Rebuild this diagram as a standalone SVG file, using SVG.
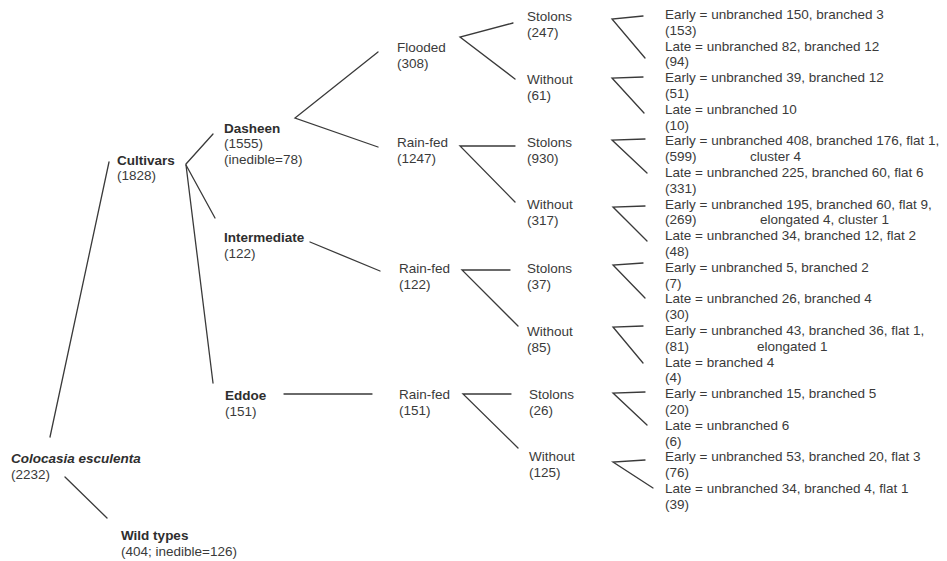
<svg xmlns="http://www.w3.org/2000/svg" width="947" height="561" viewBox="0 0 947 561">
<style>
text{font-family:"Liberation Sans",Arial,sans-serif;font-size:13.5px;fill:#3a3a3a}
.b{font-weight:bold;fill:#2e2e2e}
.bi{font-weight:bold;font-style:italic;fill:#2e2e2e}
.c line,.c polyline{stroke:#3a3a3a;stroke-width:1.3;fill:none;stroke-linecap:round}
</style>
<rect width="947" height="561" fill="#ffffff"/>
<g class="c" id="connectors">
<line x1="50" y1="437" x2="109" y2="162"/>
<line x1="65" y1="477" x2="107" y2="518"/>
<line x1="186" y1="164" x2="213" y2="134"/>
<line x1="186" y1="165" x2="215" y2="218"/>
<line x1="186" y1="165" x2="213" y2="383"/>
<polyline points="378,52 295,118 378,147"/>
<line x1="310" y1="242" x2="380" y2="271"/>
<line x1="284" y1="394" x2="372" y2="394"/>
<polyline points="513,23 460,37 515,79"/>
<polyline points="515,146 460,146 515,202"/>
<polyline points="510,270 462,270 518,326"/>
<polyline points="511,394 463,394 518,448"/>
<polyline points="643,16 612,19 645,58"/>
<polyline points="643,77 612,78 644,113"/>
<polyline points="645,139 612,140 647,173"/>
<polyline points="645,206 613,207 647,241"/>
<polyline points="643,263 613,265 645,298"/>
<polyline points="643,326 613,327 643,363"/>
<polyline points="645,392 613,393 647,425"/>
<polyline points="645,460 613,462 653,488"/>
</g>
<g id="colocasia"><text class="bi" x="11" y="463">Colocasia esculenta</text><text x="11" y="479">(2232)</text></g>
<g id="wild"><text class="b" x="121" y="540">Wild types</text><text x="121" y="556">(404; inedible=126)</text></g>
<g id="cultivars"><text class="b" x="117" y="164.5">Cultivars</text><text x="117" y="180.3">(1828)</text></g>
<g id="dasheen"><text class="b" x="224" y="132.5">Dasheen</text><text x="224" y="148.3">(1555)</text><text x="224" y="164">(inedible=78)</text></g>
<g id="intermediate"><text class="b" x="224" y="242">Intermediate</text><text x="224" y="258">(122)</text></g>
<g id="eddoe"><text class="b" x="225" y="400">Eddoe</text><text x="225" y="416">(151)</text></g>
<g id="flooded"><text x="397" y="52">Flooded</text><text x="397" y="68">(308)</text></g>
<g id="rainfed-dasheen"><text x="397" y="147">Rain-fed</text><text x="397" y="163">(1247)</text></g>
<g id="rainfed-intermediate"><text x="399" y="273">Rain-fed</text><text x="399" y="289">(122)</text></g>
<g id="rainfed-eddoe"><text x="399" y="399">Rain-fed</text><text x="399" y="415">(151)</text></g>
<g id="stolons-247"><text x="527" y="21">Stolons</text><text x="527" y="37">(247)</text></g>
<g id="without-61"><text x="527" y="84">Without</text><text x="527" y="100">(61)</text></g>
<g id="stolons-930"><text x="527" y="147">Stolons</text><text x="527" y="163">(930)</text></g>
<g id="without-317"><text x="527" y="209">Without</text><text x="527" y="225">(317)</text></g>
<g id="stolons-37"><text x="527" y="273">Stolons</text><text x="527" y="289">(37)</text></g>
<g id="without-85"><text x="527" y="336">Without</text><text x="527" y="352">(85)</text></g>
<g id="stolons-26"><text x="529" y="399">Stolons</text><text x="529" y="415">(26)</text></g>
<g id="without-125"><text x="529" y="461">Without</text><text x="529" y="477">(125)</text></g>
<g id="leaf-1"><text x="665" y="19">Early = unbranched 150, branched 3</text><text x="665" y="34.8">(153)</text><text x="665" y="50.6">Late = unbranched 82, branched 12</text><text x="665" y="66.4">(94)</text></g>
<g id="leaf-2"><text x="665" y="82.2">Early = unbranched 39, branched 12</text><text x="665" y="98">(51)</text><text x="665" y="113.8">Late = unbranched 10</text><text x="665" y="129.6">(10)</text></g>
<g id="leaf-3"><text x="665" y="145.4">Early = unbranched 408, branched 176, flat 1,</text><text x="665" y="161.2">(599)</text><text x="750" y="161.2">cluster 4</text><text x="665" y="177">Late = unbranched 225, branched 60, flat 6</text><text x="665" y="192.8">(331)</text></g>
<g id="leaf-4"><text x="665" y="208.6">Early = unbranched 195, branched 60, flat 9,</text><text x="665" y="224.4">(269)</text><text x="760" y="224.4">elongated 4, cluster 1</text><text x="665" y="240.2">Late = unbranched 34, branched 12, flat 2</text><text x="665" y="256">(48)</text></g>
<g id="leaf-5"><text x="665" y="271.8">Early = unbranched 5, branched 2</text><text x="665" y="287.6">(7)</text><text x="665" y="303.4">Late = unbranched 26, branched 4</text><text x="665" y="319.2">(30)</text></g>
<g id="leaf-6"><text x="665" y="335">Early = unbranched 43, branched 36, flat 1,</text><text x="665" y="350.8">(81)</text><text x="757" y="350.8">elongated 1</text><text x="665" y="366.6">Late = branched 4</text><text x="665" y="382.4">(4)</text></g>
<g id="leaf-7"><text x="665" y="398.2">Early = unbranched 15, branched 5</text><text x="665" y="414">(20)</text><text x="665" y="429.8">Late = unbranched 6</text><text x="665" y="445.6">(6)</text></g>
<g id="leaf-8"><text x="665" y="461.4">Early = unbranched 53, branched 20, flat 3</text><text x="665" y="477.2">(76)</text><text x="665" y="493">Late = unbranched 34, branched 4, flat 1</text><text x="665" y="508.8">(39)</text></g>
</svg>
